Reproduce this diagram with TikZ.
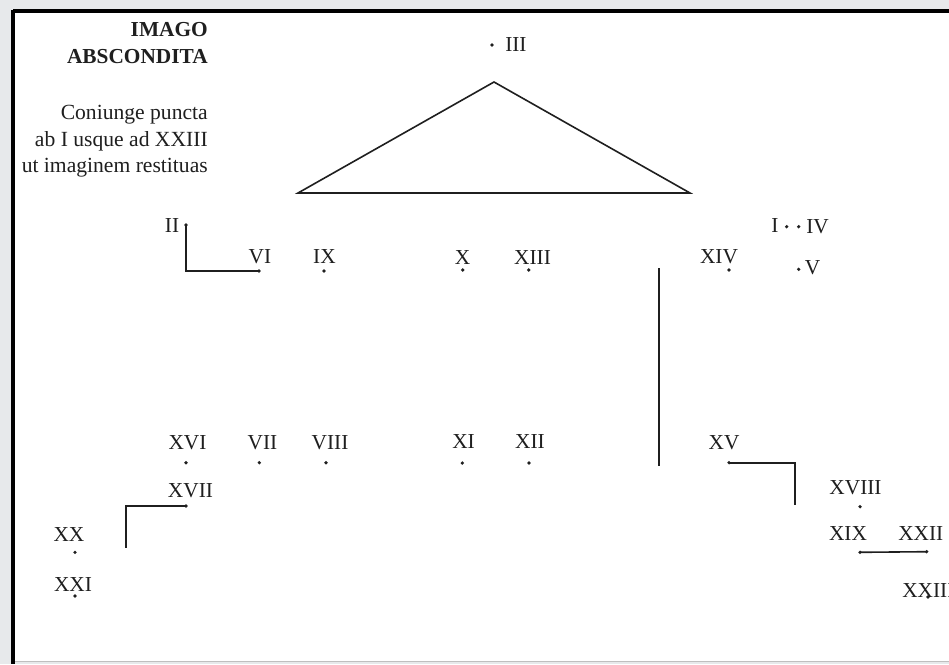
\documentclass[tikz,border=0pt]{standalone}
\usepackage{fontspec}
\setmainfont{Liberation Serif}
\definecolor{ink}{HTML}{1F1F1F}
\definecolor{paper}{HTML}{E7E9EB}
\begin{document}
\begin{tikzpicture}[x=0.75pt,y=-0.75pt,
  dot/.style={circle,fill=ink,inner sep=0pt,minimum size=2.7pt},
  num/.style={font=\fontsize{16}{19}\selectfont,text=ink,inner sep=0pt},
  note/.style={font=\fontsize{16.2}{19}\selectfont,text=ink,inner sep=0pt,anchor=base east},
  ttl/.style={font=\fontsize{16}{19}\selectfont\bfseries,text=ink,inner sep=0pt,anchor=base east},
  link/.style={draw=ink,line width=1.2pt}]
\useasboundingbox (0,0) rectangle (949,664);
% page and frame
\fill[paper] (0,0) rectangle (949,664);
\fill[white] (13,11) rectangle (949,661);
\draw[black!25,line width=0.8pt] (13,661.5) -- (949,661.5);
\draw[black,line width=3pt] (13,11) -- (949,11);
\draw[black,line width=3pt] (13,9.9) -- (13,664);
% title and instructions
\node[ttl] (t1) at (208,36) {IMAGO};
\node[ttl] (t2) at (208,63) {ABSCONDITA};
\node[note] (n1) at (208,119.5) {Coniunge puncta};
\node[note] (n2) at (208,146) {ab I usque ad XXIII};
\node[note] (n3) at (208,172) {ut imaginem restituas};
% points
\node[dot] (p1) at (786.7,226.7) {};
\node[dot] (p2) at (186,225) {};
\node[dot] (p3) at (492,45) {};
\node[dot] (p4) at (798.7,226.7) {};
\node[dot] (p5) at (798.7,269.3) {};
\node[dot] (p6) at (259,271) {};
\node[dot] (p7) at (259.3,462.7) {};
\node[dot] (p8) at (326,462.7) {};
\node[dot] (p9) at (324,271) {};
\node[dot] (p10) at (462.7,270) {};
\node[dot] (p11) at (462.3,463) {};
\node[dot] (p12) at (529,463) {};
\node[dot] (p13) at (528.7,270) {};
\node[dot] (p14) at (729,270) {};
\node[dot] (p15) at (729,462.7) {};
\node[dot] (p16) at (186,462.7) {};
\node[dot] (p17) at (186,506) {};
\node[dot] (p18) at (860,506.7) {};
\node[dot] (p19) at (860,552.3) {};
\node[dot] (p20) at (75,552.3) {};
\node[dot] (p21) at (75,596) {};
\node[dot] (p22) at (926.7,551.7) {};
\node[dot] (p23) at (928,597) {};
% labels
\node[num] (l1) at (775,226) {I};
\node[num] (l2) at (172,226) {II};
\node[num,anchor=west] (l3) at (505,44.5) {III};
\node[num] (l4) at (817.5,227) {IV};
\node[num] (l5) at (812.5,268) {V};
\node[num] (l6) at (260,256.5) {VI};
\node[num] (l7) at (262.5,442.5) {VII};
\node[num] (l8) at (330,442.5) {VIII};
\node[num] (l9) at (324.5,256.5) {IX};
\node[num] (l10) at (462.5,257.5) {X};
\node[num] (l11) at (463.5,442) {XI};
\node[num] (l12) at (530,442) {XII};
\node[num] (l13) at (532.5,257.5) {XIII};
\node[num] (l14) at (719,256.5) {XIV};
\node[num] (l15) at (724,442.5) {XV};
\node[num] (l16) at (187.5,442.5) {XVI};
\node[num] (l17) at (190.5,490.5) {XVII};
\node[num] (l18) at (855.5,487.5) {XVIII};
\node[num] (l19) at (848,534) {XIX};
\node[num] (l20) at (69,534.5) {XX};
\node[num] (l21) at (73,584.5) {XXI};
\begin{scope}
\clip (0,0) rectangle (949,664);
\node[num,anchor=west] (l22) at (898,534) {XXII};
\node[num,anchor=west] (l23) at (902,591) {XXIII};
\end{scope}
% triangle
\coordinate (ta) at (494,82);
\coordinate (tb) at (298,193);
\coordinate (tc) at (690,193);
\draw[link,line join=miter] (ta) -- (tb) -- (tc) -- cycle;
% connector segments
\draw[link] (p2.center) |- (p6.center);
\coordinate (v1) at (659,268);
\coordinate (v2) at (659,466);
\draw[link] (v1) -- (v2);
\coordinate (k1) at (126,548);
\draw[link] (p17.center) -| (k1);
\coordinate (k2) at (795,505);
\draw[link] (p15.center) -| (k2);
\draw[link] (p19.center) -- (p22.center);
\end{tikzpicture}
\end{document}
